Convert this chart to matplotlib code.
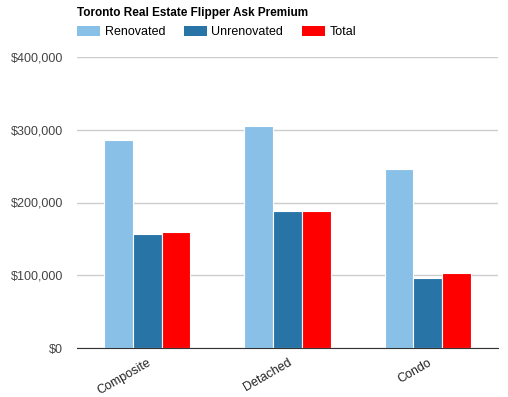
import numpy as np
import matplotlib
matplotlib.use('Agg')
from matplotlib import pyplot as plt
from matplotlib.patches import Patch

plt.rcParams['font.family'] = ['Liberation Sans', 'DejaVu Sans']

categories = ['Composite', 'Detached', 'Condo']
series_names = ['Renovated', 'Unrenovated', 'Total']
renovated = [286000, 305000, 246000]
unrenovated = [157000, 188000, 96000]
total = [159000, 188000, 103000]
colors = ['#89c0e8', '#2874a6', '#ff0000']
y_ticks = [0, 100000, 200000, 300000, 400000]

fig = plt.figure(figsize=(5.08, 3.97), dpi=100)
ax = fig.add_axes([77/508, 1 - 348/397, 421/508, 291/397])

x = np.arange(len(categories))
w = 0.205
for i, vals in enumerate([renovated, unrenovated, total]):
    ax.bar(x + (i - 1) * w, vals, width=w, color=colors[i],
           edgecolor='white', linewidth=0.8, zorder=3)

ax.set_xlim(-0.5, 2.5)
ax.set_ylim(0, 400000)
ax.set_yticks(y_ticks)
ax.set_yticklabels(['${:,}'.format(v) for v in y_ticks])
ax.grid(axis='y', color='#cccccc', linewidth=1, zorder=0)
ax.tick_params(axis='y', length=0, pad=10, labelsize=9, labelcolor='#444444')
ax.set_xticks(x)
ax.set_xticklabels(categories, rotation=30, ha='right', rotation_mode='anchor')
ax.tick_params(axis='x', length=0, pad=6, labelsize=9, labelcolor='#222222')
for s in ['top', 'right', 'left']:
    ax.spines[s].set_visible(False)
ax.spines['bottom'].set_color('#333333')
ax.spines['bottom'].set_zorder(4)

fig.text(77/508, 1 - 13/397, 'Toronto Real Estate Flipper Ask Premium',
         fontsize=8.5, fontweight='bold', va='center', ha='left')

handles = [Patch(facecolor=c, edgecolor='none') for c in colors]
fig.legend(handles, series_names, loc='center left',
           bbox_to_anchor=(77/508, 1 - 32/397), ncol=3, frameon=False,
           fontsize=9, handlelength=1.85, handleheight=0.85,
           columnspacing=1.5, handletextpad=0.35,
           borderpad=0, borderaxespad=0)

plt.savefig('out.png', dpi=100)
